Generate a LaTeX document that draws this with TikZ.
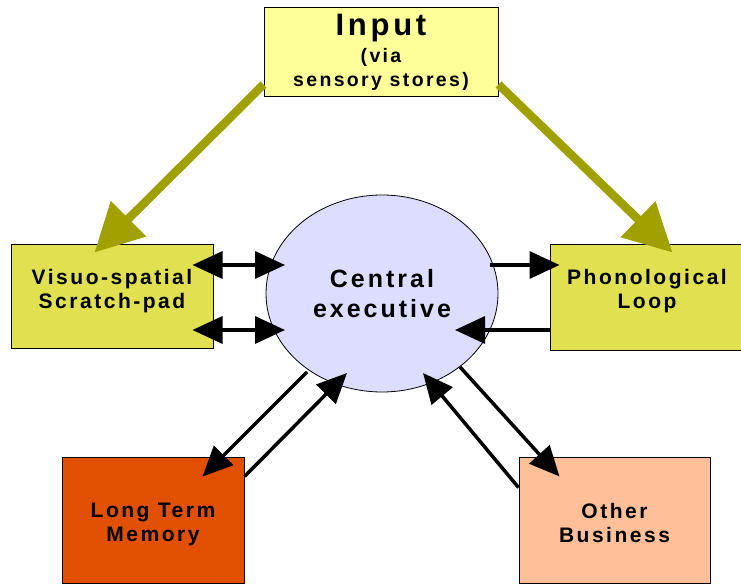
\documentclass[tikz,border=0pt]{standalone}
\usepackage{fontspec}
\setmainfont{Liberation Sans}[LetterSpace=12]
\usepackage{xcolor}
\usetikzlibrary{positioning,arrows.meta,shapes.geometric,calc}

\definecolor{inputfill}{HTML}{FFFF99}
\definecolor{slavefill}{HTML}{E0E050}
\definecolor{execfill}{HTML}{DDDDFF}
\definecolor{ltmfill}{HTML}{E05000}
\definecolor{otherfill}{HTML}{FFBF99}
\definecolor{feedolive}{HTML}{A0A000}

\begin{document}
\begin{tikzpicture}[x=1pt,y=-1pt,
  box/.style={draw,line width=1pt,inner sep=0pt,align=center,
    font=\bfseries\fontsize{21}{24}\selectfont},
  link/.style={line width=3.5pt,-{Triangle[length=30pt,width=27pt]}},
  twoway/.style={line width=3.5pt,{Triangle[length=30pt,width=27pt]}-{Triangle[length=30pt,width=27pt]}},
  feed/.style={draw=feedolive,line width=8.5pt,-{Triangle[length=48pt,width=48pt]}}]
  \useasboundingbox (0,0) rectangle (741,585);
  \fill[white] (0,0) rectangle (741,585);

  % boxes
  \node[box,fill=inputfill,minimum width=234,minimum height=89,
    font=\bfseries\fontsize{19.5}{24}\selectfont] (input) at (381,52.5)
    {{\fontsize{31}{30}\selectfont Input}\\[3pt](via\\sensory stores)};
  \node[box,fill=slavefill,minimum width=202,minimum height=103] (visuo) at (112,296.5)
    {Visuo-spatial\\Scratch-pad\\[-8pt]\mbox{}};
  \node[box,fill=slavefill,minimum width=194,minimum height=105] (phono) at (647,297.5)
    {Phonological\\Loop\\[-7pt]\mbox{}};
  \node[box,ellipse,draw,line width=0.8pt,fill=execfill,minimum width=232,minimum height=197,
    font=\bfseries\fontsize{25}{30}\selectfont] (exec) at (382,293.5)
    {Central\\executive};
  \node[box,fill=ltmfill,minimum width=182,minimum height=126] (ltm) at (153,520)
    {\mbox{}\\[-1pt]Long Term\\Memory};
  \node[box,fill=otherfill,minimum width=191,minimum height=126] (other) at (614.5,520)
    {\mbox{}\\[-3pt]Other\\Business};

  % input arrows
  \draw[feed] ($(input.west)+(0,32)$) -- ($(visuo.north west)+(84,8)$);
  \draw[feed] ($(input.east)+(0,32)$) -- ($(phono.north west)+(123,8)$);

  % visuo-spatial <-> executive
  \draw[twoway] ($(visuo.east)+(-21,-31.5)$) -- ($(exec.center)+(-97,-28.5)$);
  \draw[twoway] ($(visuo.east)+(-21,33.5)$) -- ($(exec.center)+(-97,36.5)$);

  % phonological loop
  \draw[link] ($(exec.center)+(108,-28.5)$) -- ($(phono.west)+(10,-32.5)$);
  \draw[link] ($(phono.west)+(0,32.5)$) -- ($(exec.center)+(73,36.5)$);

  % long term memory
  \draw[link] ($(exec.center)+(-75,78.5)$) -- ($(ltm.north east)+(-42,20)$);
  \draw[link] ($(ltm.north east)+(0,20)$) -- ($(exec.center)+(-35,79.5)$);

  % other business
  \draw[link] ($(other.north west)+(0,31)$) -- ($(exec.center)+(41,79.5)$);
  \draw[link] ($(exec.center)+(78,73.5)$) -- ($(other.north west)+(41,20)$);
\end{tikzpicture}
\end{document}
